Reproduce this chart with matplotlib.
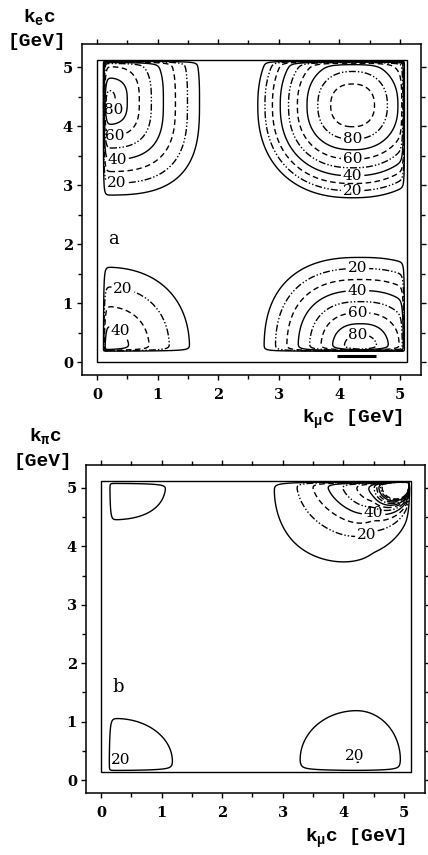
import numpy as np
import matplotlib.pyplot as plt
from matplotlib.patches import Rectangle
from matplotlib.ticker import MultipleLocator

plt.rcParams['font.family'] = 'DejaVu Serif'
plt.rcParams['mathtext.fontset'] = 'custom'
plt.rcParams['mathtext.rm'] = 'Liberation Mono:bold'
plt.rcParams['mathtext.it'] = 'Liberation Mono:bold'

# contour levels and which of them get a number
levels = np.arange(10, 130, 10)
label_levels = [20, 40, 60, 80]

# panel a: k_e against k_mu, four lobes sitting in the corners
a_cx = [0.10, 4.22, 0.10, 4.35]
a_cy = [4.42, 4.35, 0.18, 0.18]
a_peak = [90, 100, 53, 95]
a_rl = [1.79, 1.68, 1.76, 1.78]
a_rr = [1.79, 1.68, 1.76, 1.78]
a_rd = [1.79, 1.68, 1.76, 1.78]
a_ru = [1.79, 1.68, 1.76, 1.78]
a_q = [1.0, 1.5, 1.0, 1.0]
a_p = [3.0, 2.3, 2.3, 2.5]
a_domain = [0.10, 5.08, 0.18, 5.10]
a_box = [0.0, 0.0, 5.12, 5.12]
a_ridge_x = [3.97, 4.60]
a_ridge_y = [0.11, 0.11]
a_label_pos = [(0.30, 4.25), (0.30, 3.80), (0.33, 3.45), (0.33, 3.05),
               (4.22, 3.82), (4.22, 3.50), (4.22, 3.27), (4.22, 2.92),
               (0.40, 1.10), (0.30, 0.42),
               (4.30, 1.55), (4.30, 1.20), (4.30, 0.88), (4.30, 0.50)]

# panel b: k_pi against k_mu, three small lobes plus the corner peak
b_cx = [0.12, 0.25, 4.22]
b_cy = [5.12, 0.32, 0.35]
b_peak = [14, 21, 21]
b_rl = [1.0, 1.0, 1.78]
b_rr = [1.78, 1.77, 1.38]
b_rd = [1.25, 1.0, 1.0]
b_ru = [1.0, 1.4, 1.60]
b_q = [2.0, 1.0, 1.0]
b_p = [2.5, 2.0, 2.0]
b_corner_xy = (5.08, 5.08)
b_corner_scale = (1.09, 1.03)
b_corner_tilt = 16.0
b_corner_gamma = 1.6
b_corner_amp = 29.0
# values along the upper edge, falling off from the corner
b_edge_top = 95.0
b_edge_slope = 40.8
b_edge_depth = 0.6
b_domain = [0.12, 5.10, 0.15, 5.10]
b_box = [0.0, 0.14, 5.12, 5.12]
b_label_pos = [(4.50, 4.55), (4.40, 4.16), (0.30, 0.33), (4.20, 0.38)]

xlim = (-0.25, 5.35)
ylim = (-0.22, 5.39)

x = np.linspace(xlim[0], xlim[1], 1100)
y = np.linspace(ylim[0], ylim[1], 1100)
X, Y = np.meshgrid(x, y)


def lobes(cx, cy, peak, rl, rr, rd, ru, q, p):
    total = np.zeros_like(X)
    for i in range(len(cx)):
        dx = np.where(X < cx[i], (cx[i] - X) / rl[i], (X - cx[i]) / rr[i])
        dy = np.where(Y < cy[i], (cy[i] - Y) / rd[i], (Y - cy[i]) / ru[i])
        d = (dx ** p[i] + dy ** p[i]) ** (1.0 / p[i])
        total = np.maximum(total, peak[i] * np.clip(1 - d ** q[i], 0, None))
    return total


def corner_peak(xy, scale, tilt, gamma, amp):
    th = np.radians(tilt)

    def circ(xx, yy):
        u = (xx - xy[0]) / scale[0]
        w = (yy - xy[1]) / scale[1]
        s = -(u * np.cos(th) + w * np.sin(th)) / (u ** 2 + w ** 2 + 1e-9)
        return np.clip(amp * np.clip(s, 0, None) ** gamma, 0, 400)

    base = circ(X, Y)
    # extra weight hugging the upper edge, left of the corner only
    along = np.where(X < xy[0], b_edge_top - b_edge_slope * (xy[0] - X), 0.0)
    gap = along - circ(X, np.full_like(Y, xy[1] - 1e-3))
    excess = 4.0 * np.logaddexp(0, gap / 4.0) * (X < xy[0])
    depth = np.clip(xy[1] - Y, 0, None)
    return base + excess * np.exp(-(depth / b_edge_depth) ** 1.5)


def taper(dom, width=0.02):
    x0, x1, y0, y1 = dom
    t = np.ones_like(X)
    for e in [X - x0, x1 - X, Y - y0, y1 - Y]:
        t *= np.clip(1 - np.exp(np.clip(-e / width, None, 50)), 0, None)
    return t


def level_style(lev):
    k = int(round(lev / 10)) % 3
    if k == 1:
        return 'solid'
    if k == 2:
        return (0, (5, 1.5, 1, 1.5, 1, 1.5))
    return (0, (4, 2.5))


plain_levels = [l for l in levels if l not in label_levels]


def draw(ax, Z, box, label_pos, tag, tag_xy):
    ax.set_xlim(*xlim)
    ax.set_ylim(*ylim)
    ax.add_patch(Rectangle((box[0], box[1]), box[2] - box[0], box[3] - box[1],
                           fill=False, lw=1.0, ec='black'))
    ax.contour(X, Y, Z, levels=plain_levels, colors='black', linewidths=1.0,
               linestyles=[level_style(l) for l in plain_levels])
    cs = ax.contour(X, Y, Z, levels=label_levels, colors='black', linewidths=1.0,
                    linestyles=[level_style(l) for l in label_levels])
    labels = ax.clabel(cs, manual=label_pos, fmt='%d',
                       fontsize=11, inline=True, inline_spacing=2)
    for t in labels:
        t.set_rotation(0)
    ax.text(tag_xy[0], tag_xy[1], tag, fontsize=13, ha='center', va='center')

    ax.xaxis.set_major_locator(MultipleLocator(1))
    ax.xaxis.set_minor_locator(MultipleLocator(0.5))
    ax.yaxis.set_major_locator(MultipleLocator(1))
    ax.yaxis.set_minor_locator(MultipleLocator(0.5))
    ax.tick_params(which='both', direction='out', top=True, right=True, width=1.0)
    ax.tick_params(which='major', length=3.5, labelsize=10.5)
    ax.tick_params(which='minor', length=3)
    ax.tick_params(axis='x', pad=6)
    ax.tick_params(axis='y', pad=3)
    for lab in ax.get_xticklabels() + ax.get_yticklabels():
        lab.set_fontweight('bold')
    for sp in ax.spines.values():
        sp.set_linewidth(1.1)


fig = plt.figure(figsize=(4.28, 8.55), dpi=100)
W, H = 428.0, 855.0

ax_a = fig.add_axes([82 / W, 1 - 375 / H, 339 / W, 331 / H])
Za = lobes(a_cx, a_cy, a_peak, a_rl, a_rr, a_rd, a_ru, a_q, a_p) * taper(a_domain)
draw(ax_a, Za, a_box, a_label_pos, 'a', (0.27, 2.08))
ax_a.plot(a_ridge_x, a_ridge_y, color='black', lw=2.2, solid_capstyle='butt')

ax_b = fig.add_axes([86 / W, 1 - 793 / H, 339 / W, 328 / H])
Zb = np.maximum(lobes(b_cx, b_cy, b_peak, b_rl, b_rr, b_rd, b_ru, b_q, b_p),
                corner_peak(b_corner_xy, b_corner_scale, b_corner_tilt,
                            b_corner_gamma, b_corner_amp)) * taper(b_domain)
draw(ax_b, Zb, b_box, b_label_pos, 'b', (0.28, 1.59))

lab_kw = dict(fontsize=14, ha='center', va='center',
              family='Liberation Mono', weight='bold')
fig.text(40 / W, 1 - 17 / H, r'k$_{\mathrm{e}}$c', **lab_kw)
fig.text(37 / W, 1 - 41 / H, '[GeV]', **lab_kw)
fig.text(352 / W, 1 - 419 / H, r'k$_{\mu}$c [GeV]', **lab_kw)
fig.text(46 / W, 1 - 436 / H, r'k$_{\pi}$c', **lab_kw)
fig.text(43 / W, 1 - 461 / H, '[GeV]', **lab_kw)
fig.text(355 / W, 1 - 838 / H, r'k$_{\mu}$c [GeV]', **lab_kw)

fig.savefig('out.png', dpi=100)
